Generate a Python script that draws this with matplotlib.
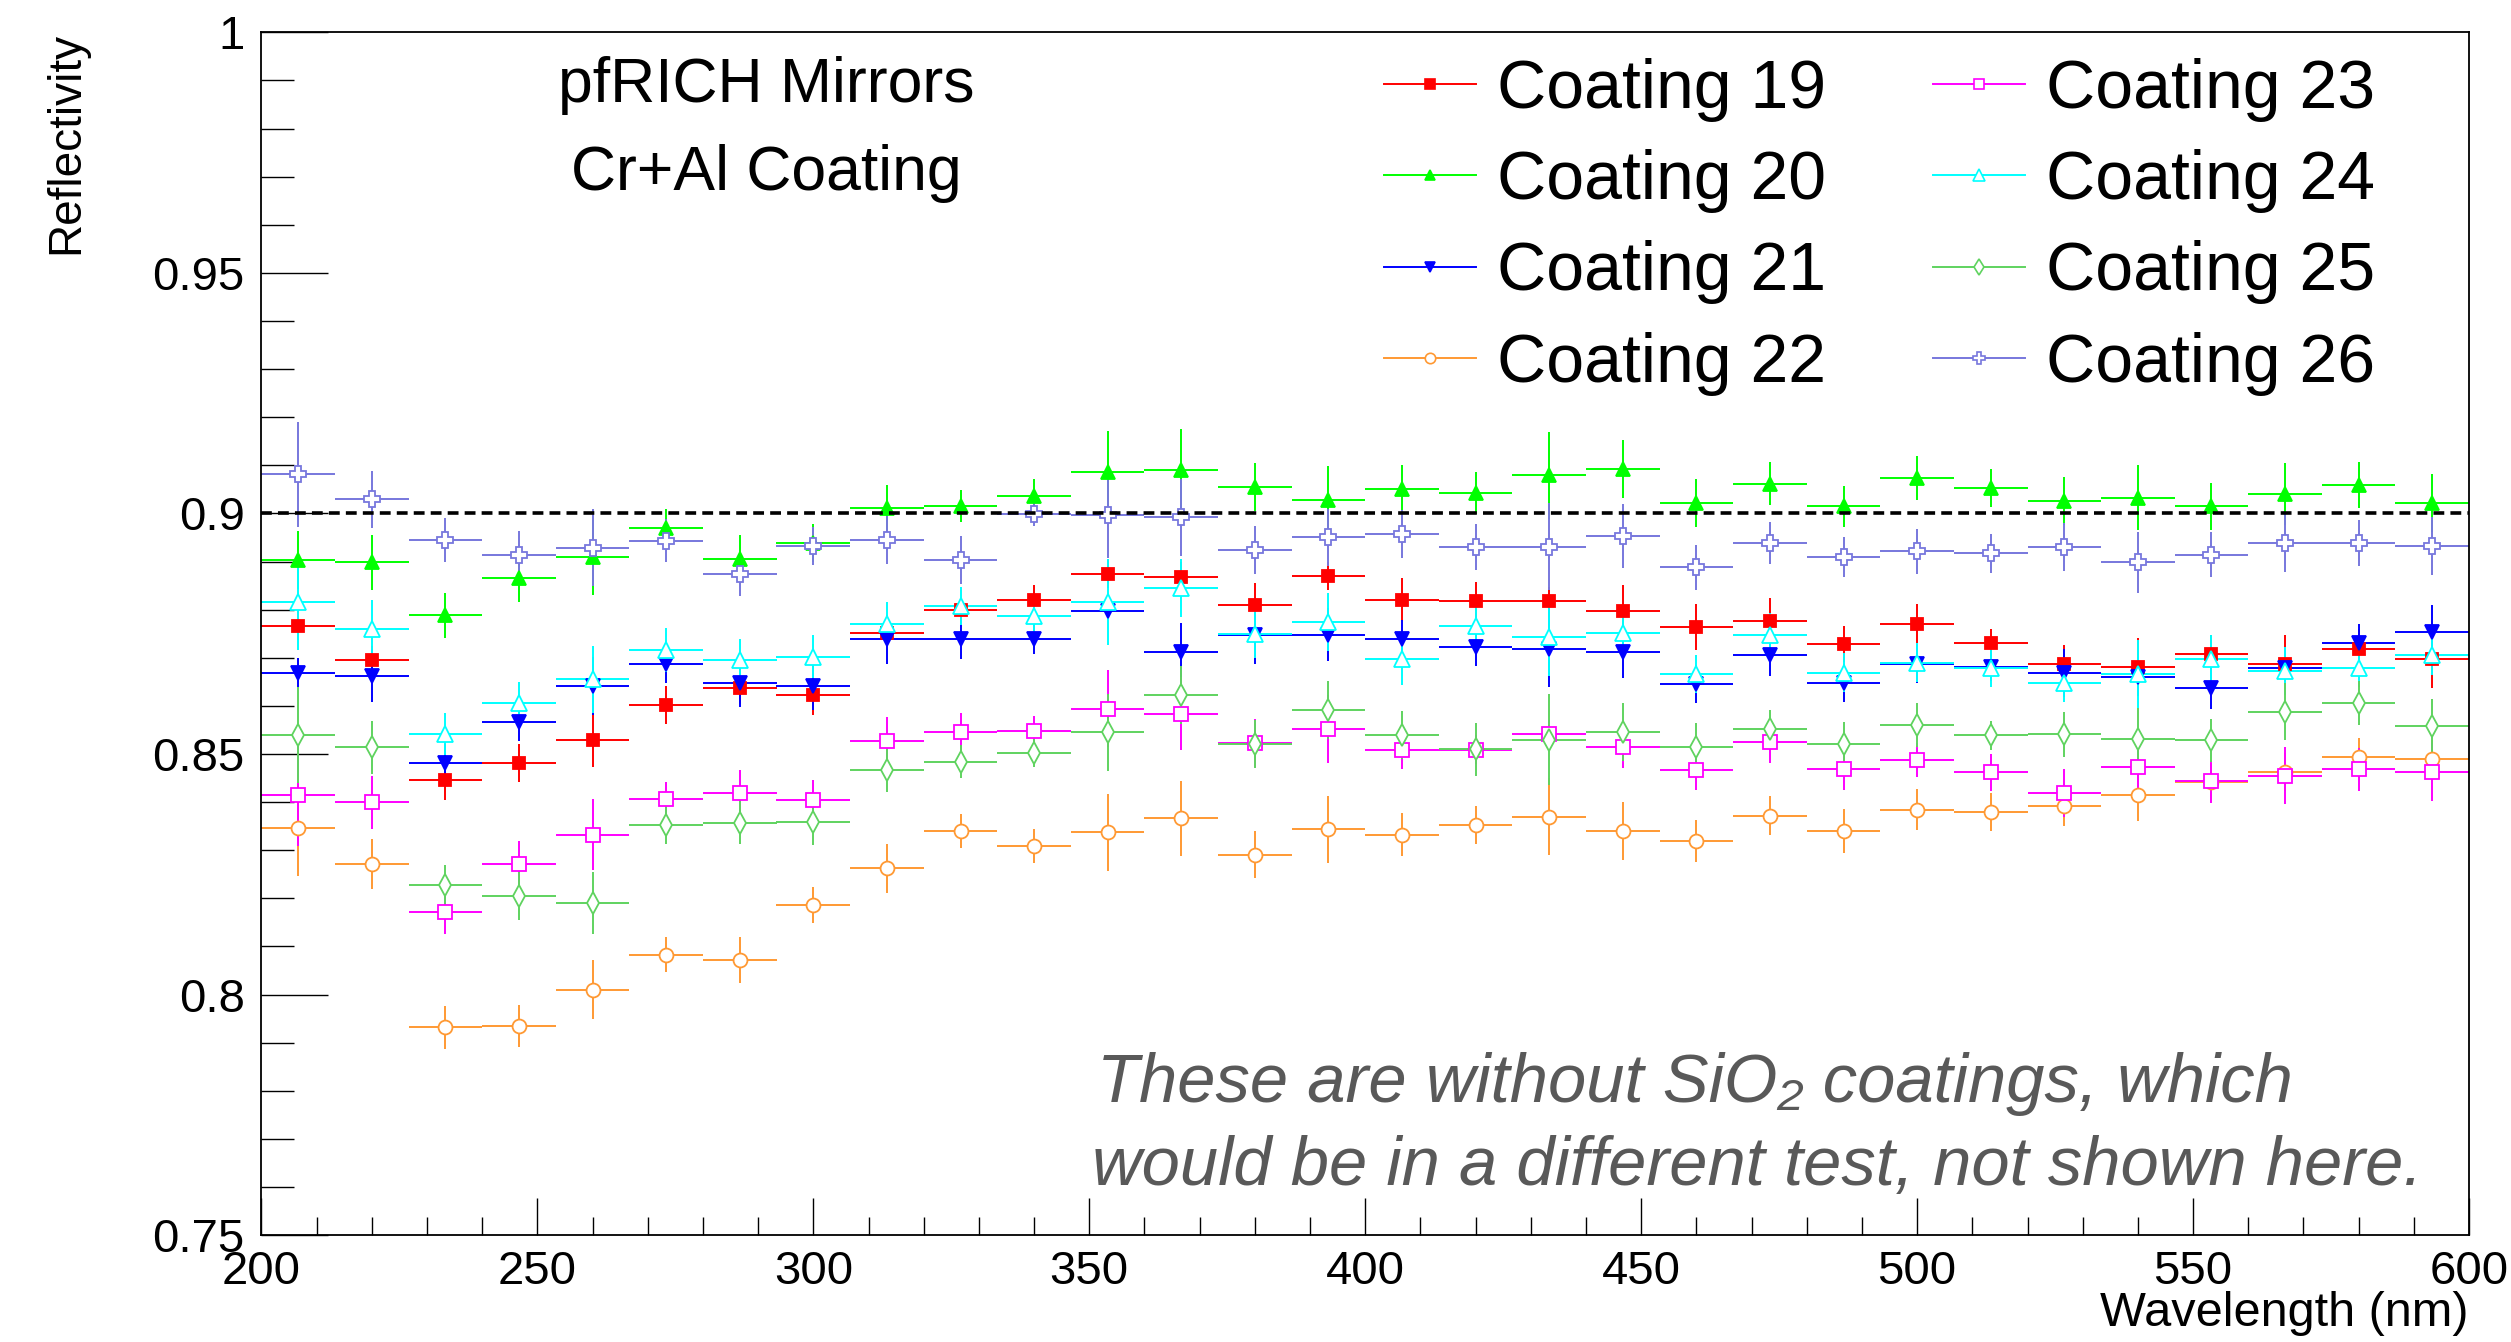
import numpy as np
import matplotlib
matplotlib.use("Agg")
import matplotlib.pyplot as plt
from matplotlib.lines import Line2D
from matplotlib.ticker import MultipleLocator, FormatStrFormatter

plt.rcParams['font.family'] = ['Liberation Sans', 'DejaVu Sans']

# bin centres (nm) and half bin width
wavelength = [206.67, 220.00, 233.33, 246.67, 260.00, 273.33, 286.67, 300.00,
              313.33, 326.67, 340.00, 353.33, 366.67, 380.00, 393.33, 406.67,
              420.00, 433.33, 446.67, 460.00, 473.33, 486.67, 500.00, 513.33,
              526.67, 540.00, 553.33, 566.67, 580.00, 593.33]
half_bin = 6.67

refl_19 = [0.8767, 0.8695, 0.8445, 0.8481, 0.8528, 0.8602, 0.8638, 0.8622,
           0.8752, 0.8799, 0.8821, 0.8874, 0.8868, 0.8810, 0.8870, 0.8821,
           0.8817, 0.8817, 0.8797, 0.8764, 0.8776, 0.8729, 0.8771, 0.8730,
           0.8686, 0.8681, 0.8707, 0.8688, 0.8719, 0.8697]
err_19 = [0.003, 0.003, 0.004, 0.004, 0.0055, 0.004, 0.0035, 0.004,
          0.002, 0.002, 0.003, 0.003, 0.003, 0.0045, 0.003, 0.0045,
          0.004, 0.003, 0.0055, 0.0047, 0.0048, 0.0037, 0.004, 0.003,
          0.004, 0.006, 0.004, 0.006, 0.004, 0.006]

refl_20 = [0.8903, 0.8898, 0.8788, 0.8866, 0.8909, 0.8969, 0.8905, 0.8939,
           0.9012, 0.9015, 0.9036, 0.9086, 0.9090, 0.9055, 0.9028, 0.9050,
           0.9043, 0.9079, 0.9093, 0.9022, 0.9062, 0.9015, 0.9074, 0.9053,
           0.9026, 0.9033, 0.9015, 0.9040, 0.9059, 0.9022]
err_20 = [0.006, 0.0057, 0.0047, 0.005, 0.0078, 0.004, 0.005, 0.004,
          0.0047, 0.0033, 0.0035, 0.0085, 0.0085, 0.005, 0.007, 0.005,
          0.0044, 0.009, 0.006, 0.005, 0.0045, 0.0043, 0.0046, 0.004,
          0.005, 0.0067, 0.0049, 0.0065, 0.0047, 0.006]

refl_21 = [0.8669, 0.8663, 0.8481, 0.8566, 0.8641, 0.8688, 0.8648, 0.8641,
           0.8738, 0.8738, 0.8738, 0.8798, 0.8712, 0.8748, 0.8748, 0.8738,
           0.8723, 0.8719, 0.8712, 0.8645, 0.8705, 0.8648, 0.8688, 0.8681,
           0.8669, 0.8661, 0.8638, 0.8679, 0.8730, 0.8754]
err_21 = [0.003, 0.0055, 0.004, 0.004, 0.006, 0.004, 0.005, 0.005,
          0.005, 0.004, 0.003, 0.002, 0.006, 0.006, 0.0055, 0.004,
          0.004, 0.008, 0.0055, 0.004, 0.0042, 0.004, 0.004, 0.003,
          0.005, 0.004, 0.0045, 0.004, 0.004, 0.0055]

refl_22 = [0.8346, 0.8271, 0.7932, 0.7935, 0.8010, 0.8083, 0.8071, 0.8186,
           0.8262, 0.8340, 0.8308, 0.8337, 0.8366, 0.8291, 0.8343, 0.8332,
           0.8352, 0.8370, 0.8340, 0.8319, 0.8372, 0.8340, 0.8384, 0.8379,
           0.8391, 0.8415, 0.8441, 0.8462, 0.8493, 0.8490]
err_22 = [0.010, 0.0052, 0.0045, 0.0044, 0.0061, 0.0036, 0.0048, 0.0038,
          0.005, 0.0035, 0.0035, 0.008, 0.0078, 0.0048, 0.007, 0.0045,
          0.004, 0.008, 0.006, 0.0043, 0.004, 0.0046, 0.0043, 0.004,
          0.004, 0.0055, 0.004, 0.004, 0.004, 0.004]

refl_23 = [0.8414, 0.8400, 0.8171, 0.8271, 0.8332, 0.8407, 0.8419, 0.8405,
           0.8526, 0.8545, 0.8548, 0.8594, 0.8584, 0.8523, 0.8552, 0.8508,
           0.8509, 0.8541, 0.8515, 0.8466, 0.8524, 0.8469, 0.8488, 0.8462,
           0.8419, 0.8472, 0.8443, 0.8455, 0.8468, 0.8462]
err_23 = [0.0105, 0.0055, 0.0045, 0.0048, 0.0074, 0.0035, 0.0047, 0.004,
          0.005, 0.004, 0.003, 0.008, 0.0075, 0.005, 0.007, 0.004,
          0.003, 0.003, 0.0045, 0.004, 0.0043, 0.0043, 0.0035, 0.0038,
          0.005, 0.005, 0.0045, 0.006, 0.0044, 0.006]

refl_24 = [0.8816, 0.8759, 0.8541, 0.8605, 0.8655, 0.8716, 0.8695, 0.8702,
           0.8771, 0.8808, 0.8786, 0.8816, 0.8845, 0.8750, 0.8774, 0.8698,
           0.8766, 0.8743, 0.8752, 0.8666, 0.8748, 0.8669, 0.8690, 0.8679,
           0.8648, 0.8666, 0.8697, 0.8672, 0.8679, 0.8705]
err_24 = [0.010, 0.006, 0.0044, 0.0045, 0.007, 0.0045, 0.0045, 0.0045,
          0.0045, 0.004, 0.004, 0.009, 0.006, 0.005, 0.006, 0.0055,
          0.004, 0.008, 0.004, 0.004, 0.0045, 0.004, 0.004, 0.004,
          0.004, 0.007, 0.005, 0.005, 0.004, 0.004]

refl_25 = [0.8540, 0.8514, 0.8227, 0.8204, 0.8190, 0.8353, 0.8357, 0.8359,
           0.8466, 0.8484, 0.8502, 0.8545, 0.8623, 0.8521, 0.8591, 0.8539,
           0.8510, 0.8530, 0.8545, 0.8514, 0.8552, 0.8521, 0.8560, 0.8539,
           0.8541, 0.8531, 0.8528, 0.8588, 0.8606, 0.8559]
err_25 = [0.010, 0.0055, 0.0042, 0.005, 0.0065, 0.004, 0.0045, 0.0048,
          0.0045, 0.0035, 0.003, 0.008, 0.006, 0.005, 0.006, 0.005,
          0.0055, 0.0095, 0.006, 0.005, 0.004, 0.0045, 0.0045, 0.003,
          0.0047, 0.0065, 0.0045, 0.006, 0.0045, 0.0055]

refl_26 = [0.9081, 0.9029, 0.8945, 0.8914, 0.8929, 0.8943, 0.8874, 0.8932,
           0.8945, 0.8903, 0.8998, 0.8997, 0.8992, 0.8924, 0.8950, 0.8957,
           0.8931, 0.8931, 0.8953, 0.8888, 0.8938, 0.8910, 0.8921, 0.8917,
           0.8931, 0.8898, 0.8914, 0.8938, 0.8938, 0.8932]
err_26 = [0.011, 0.006, 0.0045, 0.005, 0.008, 0.0045, 0.0045, 0.004,
          0.005, 0.005, 0.0025, 0.009, 0.008, 0.005, 0.006, 0.005,
          0.0048, 0.009, 0.0066, 0.0047, 0.0044, 0.0042, 0.0046, 0.004,
          0.005, 0.0063, 0.0047, 0.006, 0.0048, 0.006]

labels = ['Coating 19', 'Coating 20', 'Coating 21', 'Coating 22',
          'Coating 23', 'Coating 24', 'Coating 25', 'Coating 26']
series = [(refl_19, err_19), (refl_20, err_20), (refl_21, err_21), (refl_22, err_22),
          (refl_23, err_23), (refl_24, err_24), (refl_25, err_25), (refl_26, err_26)]
colors = ['#ff0000', '#00ff00', '#0000ff', '#ff9933',
          '#ff00ff', '#00ffff', '#5fd35f', '#7777dd']
markers = ['s', '^', 'v', 'o', 's', '^', 'd', 'P']
filled = [True, True, True, False, False, False, False, False]
msizes = [9, 10, 10, 10, 10, 11, 11, 11]

target = 0.9

fig = plt.figure(figsize=(25.11, 13.42), dpi=100)
fig.patch.set_facecolor('white')
ax = fig.add_axes([0.1041, 0.0797, 0.8792, 0.8962])

handles = []
for (vals, errs), lab, c, m, f, ms in zip(series, labels, colors, markers, filled, msizes):
    face = c if f else 'white'
    ax.errorbar(wavelength, vals, xerr=half_bin, yerr=errs, fmt=m, color=c,
                mfc=face, mec=c, ms=ms, mew=1.3, elinewidth=1.4, capsize=0,
                linestyle='none')
    handles.append(Line2D([], [], color=c, lw=1.4, marker=m, mfc=face, mec=c,
                          ms=ms * 0.75, mew=1.2))

# reference level
ax.axhline(target, color='black', lw=2.6, linestyle=(0, (3.0, 1.7)), zorder=5)

ax.set_xlim(200, 600)
ax.set_ylim(0.75, 1.0)
ax.xaxis.set_major_locator(MultipleLocator(50))
ax.xaxis.set_minor_locator(MultipleLocator(10))
ax.yaxis.set_major_locator(MultipleLocator(0.05))
ax.yaxis.set_minor_locator(MultipleLocator(0.01))
ax.yaxis.set_major_formatter(FormatStrFormatter('%g'))
ax.tick_params(which='both', direction='in', top=False, right=False, width=1.0)
ax.tick_params(axis='x', which='major', length=26.5, labelsize=34, pad=10.5)
ax.tick_params(axis='x', which='minor', length=13)
ax.tick_params(axis='y', which='major', length=48, labelsize=34, pad=12)
ax.tick_params(axis='y', which='minor', length=24)
for sp in ax.spines.values():
    sp.set_linewidth(1.3)

fig.text(66 / 2511, 1 - 32 / 1342, 'Reflectivity', rotation=90,
         ha='center', va='top', fontsize=33)
fig.text(2469 / 2511, 1 - 1326 / 1342, 'Wavelength (nm)',
         ha='right', va='baseline', fontsize=35)

fig.text(766 / 2511, 1 - 102 / 1342, 'pfRICH Mirrors',
         ha='center', va='baseline', fontsize=45)
fig.text(766 / 2511, 1 - 190 / 1342, 'Cr+Al Coating',
         ha='center', va='baseline', fontsize=45)

fig.text(1097 / 2511, 1 - 1102 / 1342, 'These are without SiO\u2082 coatings, which',
         ha='left', va='baseline', fontsize=49.5, style='italic', color='#595959')
fig.text(1092 / 2511, 1 - 1185 / 1342, 'would be in a different test, not shown here.',
         ha='left', va='baseline', fontsize=49.5, style='italic', color='#595959')

fig.legend(handles, labels, ncol=2, loc='upper left',
           bbox_to_anchor=(1384 / 2511, 1 - 58 / 1342), bbox_transform=fig.transFigure,
           frameon=False, fontsize=49, handlelength=1.35, handletextpad=0.31,
           columnspacing=1.57, labelspacing=0.40, borderpad=0, borderaxespad=0)

fig.savefig('out.png', dpi=100, facecolor='white')
